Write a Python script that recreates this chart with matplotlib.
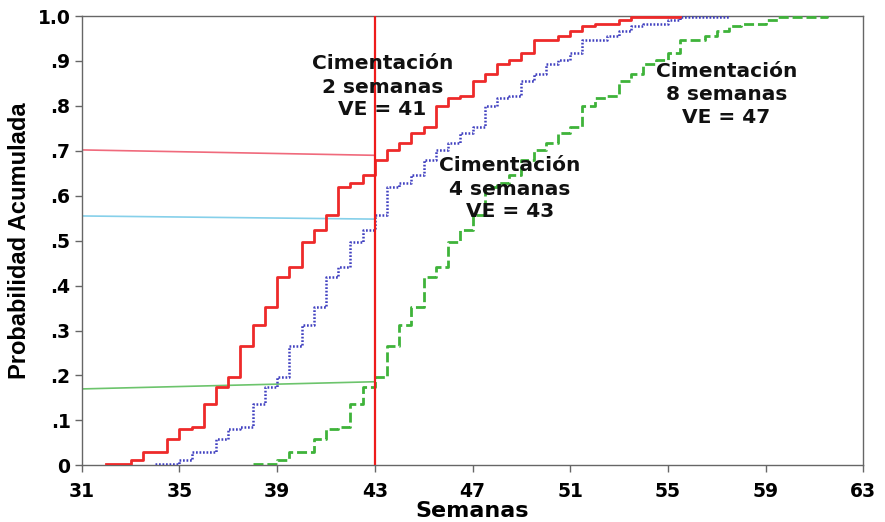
import matplotlib
matplotlib.use("Agg")
import matplotlib.pyplot as plt

# ---- data ----
x_2sem = [32, 33, 33.5, 34.5, 35, 35.5, 36, 36.5, 37, 37.5, 38, 38.5, 39, 39.5, 40, 40.5,
          41, 41.5, 42, 42.5, 43, 43.5, 44, 44.5, 45, 45.5, 46, 46.5, 47, 47.5, 48, 48.5,
          49, 49.5, 50.5, 51, 51.5, 52, 53, 53.5, 55.5]
p_2sem = [0.004, 0.011, 0.029, 0.058, 0.081, 0.086, 0.136, 0.174, 0.197, 0.266, 0.312, 0.352,
          0.420, 0.442, 0.496, 0.524, 0.557, 0.620, 0.629, 0.647, 0.680, 0.702, 0.718, 0.739,
          0.754, 0.800, 0.817, 0.821, 0.856, 0.871, 0.894, 0.903, 0.918, 0.946, 0.955, 0.966,
          0.978, 0.983, 0.992, 0.997, 1.000]

x_4sem = [34, 35, 35.5, 36.5, 37, 37.5, 38, 38.5, 39, 39.5, 40, 40.5, 41, 41.5, 42, 42.5,
          43, 43.5, 44, 44.5, 45, 45.5, 46, 46.5, 47, 47.5, 48, 48.5, 49, 49.5, 50, 50.5,
          51, 51.5, 52.5, 53, 53.5, 54, 55, 55.5, 57.5]
p_4sem = [0.004, 0.011, 0.029, 0.058, 0.081, 0.086, 0.136, 0.174, 0.197, 0.266, 0.312, 0.352,
          0.420, 0.442, 0.496, 0.524, 0.557, 0.620, 0.629, 0.647, 0.680, 0.702, 0.718, 0.739,
          0.754, 0.800, 0.817, 0.821, 0.856, 0.871, 0.894, 0.903, 0.918, 0.946, 0.955, 0.966,
          0.978, 0.983, 0.992, 0.997, 1.000]

x_8sem = [38, 39, 39.5, 40.5, 41, 41.5, 42, 42.5, 43, 43.5, 44, 44.5, 45, 45.5, 46, 46.5,
          47, 47.5, 48, 48.5, 49, 49.5, 50, 50.5, 51, 51.5, 52, 52.5, 53, 53.5, 54, 54.5,
          55, 55.5, 56.5, 57, 57.5, 58, 59, 59.5, 61.5]
p_8sem = [0.004, 0.011, 0.029, 0.058, 0.081, 0.086, 0.136, 0.174, 0.197, 0.266, 0.312, 0.352,
          0.420, 0.442, 0.496, 0.524, 0.557, 0.620, 0.629, 0.647, 0.680, 0.702, 0.718, 0.739,
          0.754, 0.800, 0.817, 0.821, 0.856, 0.871, 0.894, 0.903, 0.918, 0.946, 0.955, 0.966,
          0.978, 0.983, 0.992, 0.997, 1.000]

ve_week = 43
ref_x = [31, 43]
ref_pink = [0.702, 0.690]
ref_blue = [0.555, 0.548]
ref_green = [0.170, 0.186]

x_ticks = [31, 35, 39, 43, 47, 51, 55, 59, 63]
y_ticks = [0, 0.1, 0.2, 0.3, 0.4, 0.5, 0.6, 0.7, 0.8, 0.9, 1.0]
y_ticklabels = ["0", ".1", ".2", ".3", ".4", ".5", ".6", ".7", ".8", ".9", "1.0"]

labels = [
    (43.32, [0.894, 0.841, 0.791], ["Cimentación", "2 semanas", "VE = 41"]),
    (48.52, [0.667, 0.615, 0.564], ["Cimentación", "4 semanas", "VE = 43"]),
    (57.40, [0.876, 0.825, 0.774], ["Cimentación", "8 semanas", "VE = 47"]),
]

# ---- figure ----
fig = plt.figure(figsize=(8.85, 5.22), dpi=100)
ax = fig.add_axes([0.0923, 0.1086, 0.8832, 0.8607])

ax.plot(ref_x, ref_pink, color="#f06a7c", lw=1.2, zorder=2)
ax.plot(ref_x, ref_blue, color="#86d0ea", lw=1.2, zorder=2)
ax.plot(ref_x, ref_green, color="#6cc46c", lw=1.2, zorder=2)

ax.step(x_8sem, p_8sem, where="post", color="#3fb33a", lw=2.0,
        linestyle=(0, (3.6, 1.4)), zorder=3)
ax.step(x_4sem, p_4sem, where="post", color="#4040c0", lw=1.8,
        linestyle=(0, (0.7, 0.7)), zorder=3)
ax.step(x_2sem, p_2sem, where="post", color="#ee2a2a", lw=2.0, zorder=4)

ax.axvline(ve_week, color="#ee1c1c", lw=1.6, zorder=5)

for xc, ys, lines in labels:
    for yv, t in zip(ys, lines):
        ax.text(xc, yv, t, ha="center", va="center", fontsize=14.5,
                fontweight="bold", family="DejaVu Sans", color="#111111", zorder=6)

ax.set_xlim(31, 63)
ax.set_ylim(0, 1.0)
ax.set_xticks(x_ticks)
ax.set_xticklabels([str(v) for v in x_ticks])
ax.set_yticks(y_ticks)
ax.set_yticklabels(y_ticklabels)

for lab in ax.get_xticklabels() + ax.get_yticklabels():
    lab.set_fontweight("bold")
    lab.set_fontsize(13.5)
    lab.set_family("DejaVu Sans")

ax.tick_params(direction="out", length=5, width=1, color="#666666")
ax.tick_params(axis="x", pad=7)
ax.tick_params(axis="y", pad=3)
for s in ax.spines.values():
    s.set_color("#666666")
    s.set_linewidth(1.0)

ax.set_xlabel("Semanas", fontsize=16, fontweight="bold", family="DejaVu Sans", labelpad=0)
ax.set_ylabel("Probabilidad Acumulada", fontsize=17, fontweight="bold",
              family="Liberation Sans", labelpad=5)

fig.savefig("out.png", dpi=100)
